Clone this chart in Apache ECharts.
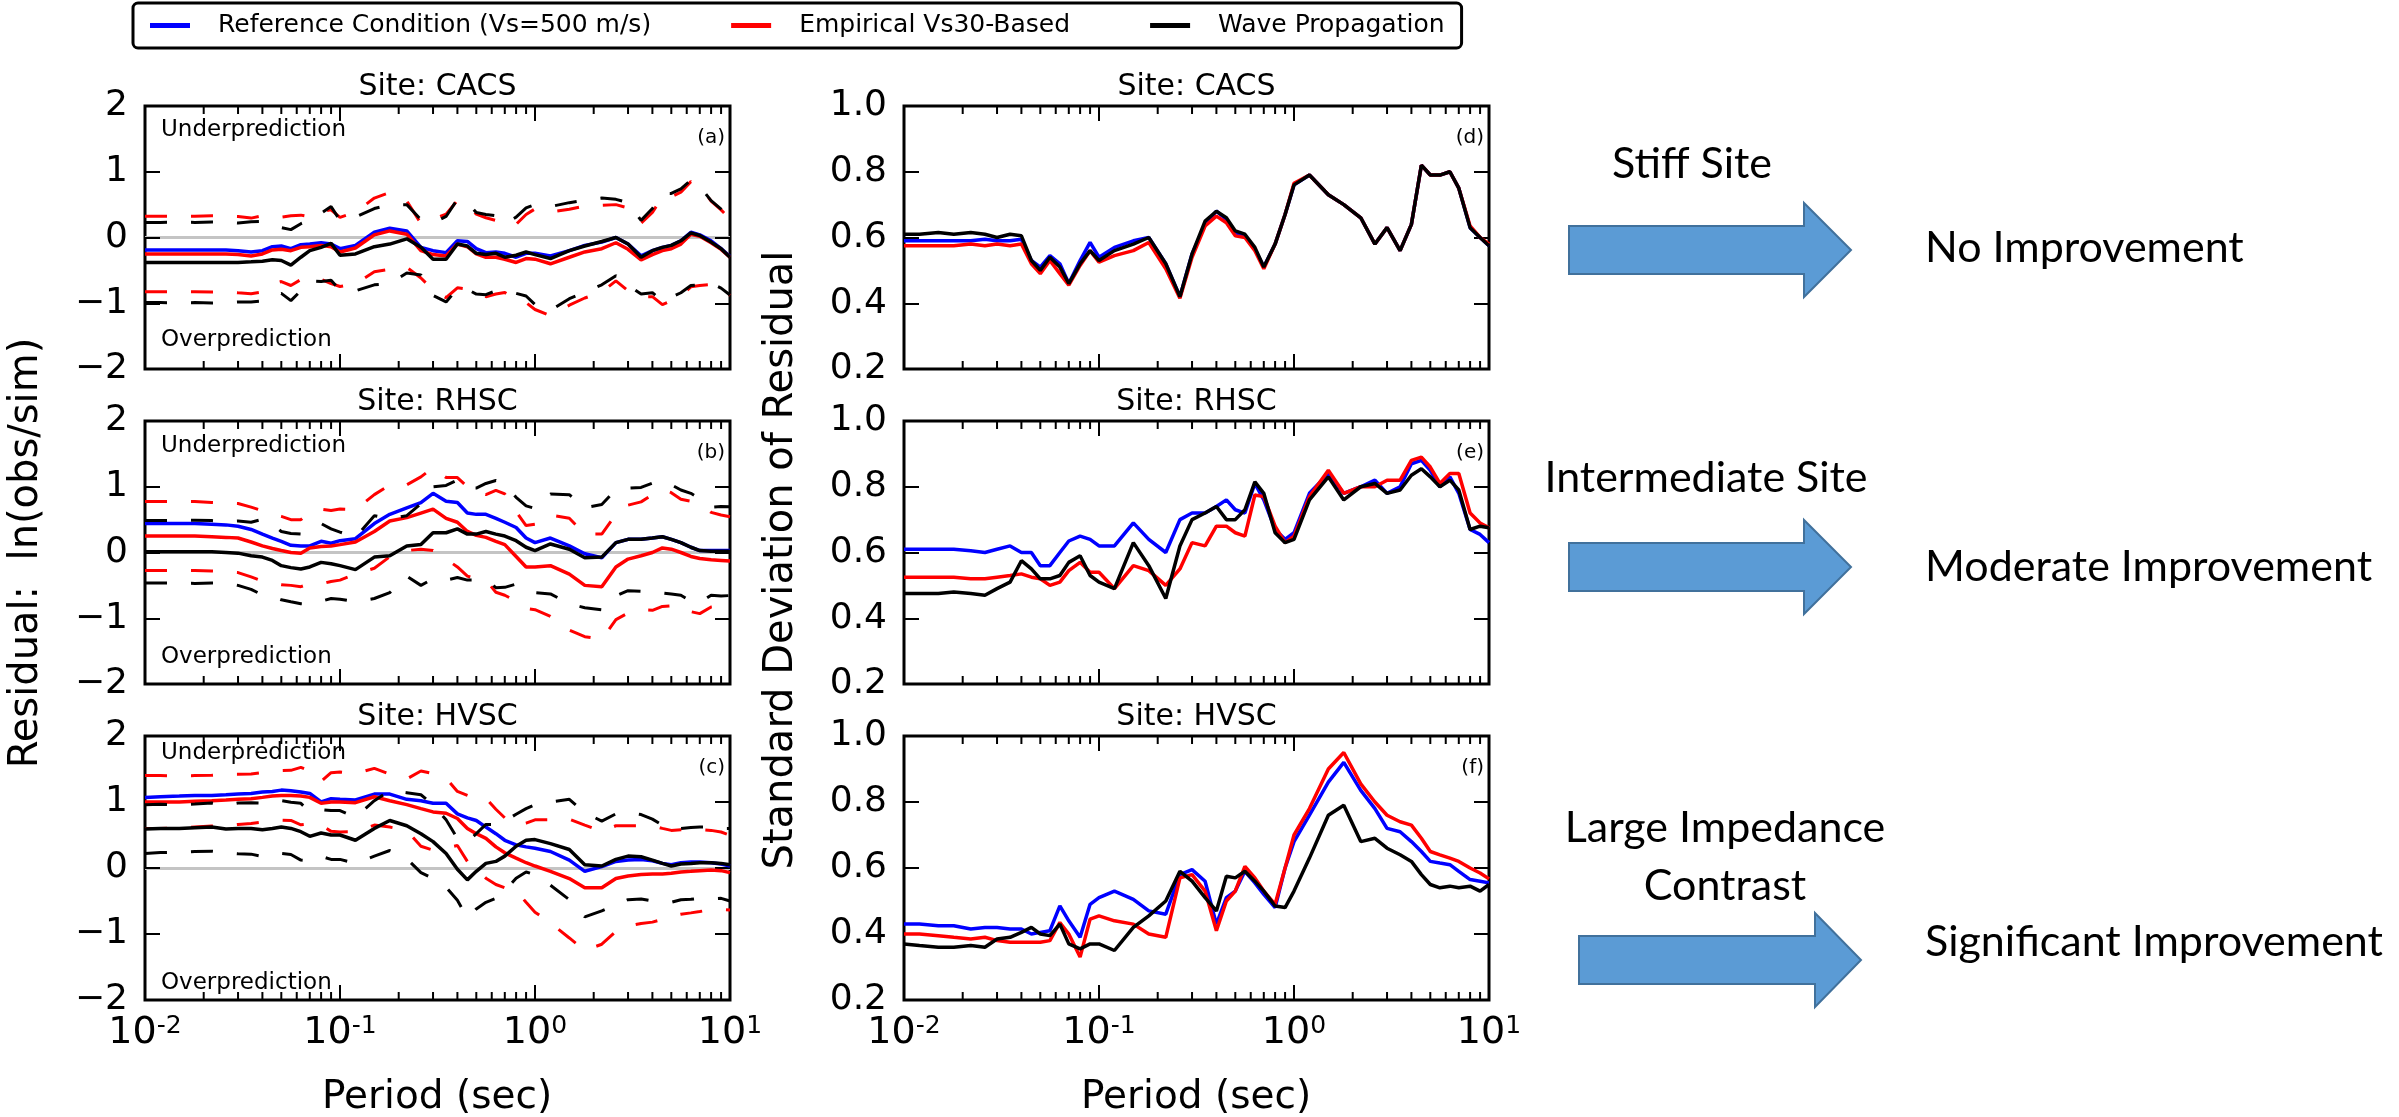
<!DOCTYPE html>
<html>
<head>
<meta charset="utf-8">
<script src="https://cdn.jsdelivr.net/npm/echarts@6/dist/echarts.min.js"></script>
<style>html,body{margin:0;padding:0;background:#fff}#c{width:2399px;height:1117px}</style>
</head>
<body>
<div id="c"></div>
<script>
// ---------------- DATA ----------------
const PERIOD = [0.01,0.012,0.015,0.018,0.022,0.026,0.03,0.035,0.04,0.045,0.05,0.056,0.063,0.07,0.08,0.09,
  0.1,0.12,0.15,0.18,0.22,0.26,0.3,0.35,0.4,0.45,0.5,0.56,0.63,0.7,0.8,0.9,
  1,1.2,1.5,1.8,2.2,2.6,3,3.5,4,4.5,5,5.6,6.3,7,8,9,10];
const MINOR_TICKS = [0.02,0.03,0.04,0.05,0.06,0.07,0.08,0.09,0.2,0.3,0.4,0.5,0.6,0.7,0.8,0.9,2,3,4,5,6,7,8,9];
const SERIES_NAMES = ['Reference Condition (Vs=500 m/s)','Empirical Vs30-Based','Wave Propagation'];
const SITES = ['CACS','RHSC','HVSC'];
const PANEL_TAGS = ['(a)','(b)','(c)','(d)','(e)','(f)'];
const RES_TICKS = [-2,-1,0,1,2];
const STD_TICKS = [0.2,0.4,0.6,0.8,1.0];

// (a) CACS mean residual
const A_REF = [-0.19,-0.19,-0.19,-0.19,-0.19,-0.19,-0.2,-0.22,-0.2,-0.14,-0.13,-0.17,-0.11,-0.1,-0.08,-0.1,
  -0.17,-0.12,0.08,0.14,0.1,-0.15,-0.2,-0.23,-0.05,-0.06,-0.17,-0.23,-0.22,-0.24,-0.3,-0.24,
  -0.24,-0.28,-0.2,-0.12,-0.07,0.0,-0.1,-0.28,-0.2,-0.15,-0.12,-0.05,0.08,0.04,-0.05,-0.17,-0.29];
const A_EMP = [-0.25,-0.25,-0.25,-0.25,-0.25,-0.25,-0.26,-0.28,-0.25,-0.19,-0.18,-0.2,-0.15,-0.14,-0.12,-0.14,
  -0.22,-0.16,0.04,0.1,0.05,-0.2,-0.26,-0.28,-0.1,-0.14,-0.25,-0.3,-0.3,-0.33,-0.38,-0.32,
  -0.33,-0.4,-0.3,-0.22,-0.17,-0.08,-0.18,-0.34,-0.26,-0.2,-0.17,-0.1,0.05,0.02,-0.08,-0.18,-0.3];
const A_EMP_HI = [0.325,0.325,0.325,0.325,0.33,0.325,0.32,0.295,0.33,0.33,0.31,0.33,0.34,0.315,0.395,0.42,
  0.305,0.385,0.6,0.685,0.555,0.215,0.28,0.355,0.565,0.505,0.355,0.3,0.26,0.175,0.2,0.35,
  0.435,0.39,0.43,0.48,0.49,0.5,0.45,0.22,0.38,0.62,0.62,0.69,0.85,0.77,0.555,0.42,0.28];
const A_EMP_LO = [-0.825,-0.825,-0.825,-0.825,-0.83,-0.825,-0.84,-0.855,-0.83,-0.71,-0.67,-0.73,-0.64,-0.595,-0.635,-0.7,
  -0.745,-0.705,-0.52,-0.485,-0.455,-0.615,-0.8,-0.915,-0.765,-0.785,-0.855,-0.9,-0.86,-0.835,-0.96,-0.99,
  -1.095,-1.19,-1.03,-0.92,-0.83,-0.66,-0.81,-0.9,-0.9,-1.02,-0.96,-0.89,-0.75,-0.73,-0.715,-0.78,-0.88];
const A_WAVE = [-0.38,-0.38,-0.38,-0.38,-0.38,-0.38,-0.38,-0.37,-0.36,-0.34,-0.35,-0.42,-0.3,-0.2,-0.15,-0.09,
  -0.27,-0.25,-0.14,-0.1,-0.02,-0.15,-0.33,-0.33,-0.1,-0.13,-0.24,-0.26,-0.24,-0.3,-0.27,-0.22,
  -0.26,-0.32,-0.2,-0.13,-0.06,0.0,-0.1,-0.3,-0.2,-0.15,-0.12,-0.05,0.07,0.03,-0.07,-0.17,-0.3];
const A_WAVE_HI = [0.23,0.23,0.235,0.23,0.235,0.23,0.22,0.24,0.245,0.19,0.15,0.12,0.21,0.26,0.37,0.47,
  0.26,0.31,0.44,0.5,0.5,0.27,0.22,0.32,0.58,0.53,0.38,0.35,0.33,0.21,0.31,0.45,
  0.5,0.47,0.53,0.57,0.6,0.58,0.53,0.26,0.44,0.67,0.67,0.74,0.87,0.78,0.56,0.43,0.275];
const A_WAVE_LO = [-0.99,-0.99,-0.995,-0.99,-0.995,-0.99,-0.98,-0.98,-0.965,-0.87,-0.85,-0.96,-0.81,-0.66,-0.67,-0.65,
  -0.8,-0.81,-0.72,-0.7,-0.54,-0.57,-0.88,-0.98,-0.78,-0.79,-0.86,-0.87,-0.81,-0.81,-0.85,-0.89,
  -1.02,-1.11,-0.93,-0.83,-0.72,-0.58,-0.73,-0.86,-0.84,-0.97,-0.91,-0.84,-0.73,-0.72,-0.7,-0.77,-0.875];

// (b) RHSC mean residual
const B_REF = [0.44,0.44,0.44,0.44,0.43,0.42,0.40,0.35,0.28,0.22,0.17,0.11,0.10,0.10,0.17,0.14,
  0.18,0.21,0.44,0.58,0.68,0.76,0.90,0.78,0.76,0.60,0.58,0.58,0.52,0.46,0.38,0.22,
  0.15,0.22,0.10,-0.02,-0.08,0.15,0.20,0.20,0.22,0.24,0.20,0.15,0.08,0.03,0.03,0.03,0.03];
const B_EMP = [0.25,0.25,0.25,0.25,0.24,0.23,0.22,0.16,0.10,0.06,0.03,0.0,-0.01,0.07,0.09,0.10,
  0.12,0.16,0.32,0.48,0.53,0.60,0.66,0.52,0.46,0.32,0.26,0.23,0.17,0.12,-0.06,-0.22,
  -0.22,-0.20,-0.33,-0.50,-0.52,-0.22,-0.10,-0.05,0.0,0.07,0.05,0.0,-0.06,-0.09,-0.11,-0.12,-0.13];
const B_EMP_HI = [0.775,0.775,0.775,0.775,0.76,0.75,0.745,0.69,0.635,0.585,0.55,0.5,0.5,0.615,0.66,0.64,
  0.66,0.65,0.88,1.025,1.03,1.15,1.29,1.14,1.14,1.0,0.92,0.88,0.945,0.89,0.62,0.41,
  0.43,0.57,0.52,0.28,0.28,0.58,0.72,0.77,0.88,0.96,0.91,0.81,0.78,0.75,0.61,0.57,0.545];
const B_EMP_LO = [-0.275,-0.275,-0.275,-0.275,-0.28,-0.29,-0.305,-0.37,-0.435,-0.465,-0.49,-0.5,-0.52,-0.475,-0.48,-0.44,
  -0.42,-0.33,-0.24,-0.065,0.03,0.05,0.03,-0.1,-0.22,-0.36,-0.4,-0.42,-0.605,-0.65,-0.74,-0.85,
  -0.87,-0.97,-1.18,-1.28,-1.32,-1.02,-0.92,-0.87,-0.88,-0.82,-0.81,-0.81,-0.9,-0.93,-0.83,-0.81,-0.805];
const B_WAVE = [0.01,0.01,0.01,0.01,0.01,0.0,-0.01,-0.05,-0.07,-0.12,-0.20,-0.23,-0.25,-0.22,-0.15,-0.17,
  -0.20,-0.26,-0.07,-0.05,0.10,0.12,0.30,0.30,0.36,0.28,0.28,0.32,0.28,0.25,0.18,0.08,
  0.03,0.13,0.05,-0.08,-0.07,0.15,0.20,0.20,0.22,0.24,0.20,0.15,0.08,0.03,0.02,0.02,0.02];
const B_WAVE_HI = [0.485,0.485,0.485,0.49,0.485,0.47,0.48,0.46,0.505,0.43,0.32,0.29,0.28,0.35,0.44,0.36,
  0.31,0.23,0.56,0.51,0.56,0.74,1.0,1.02,1.1,0.98,0.98,1.05,1.095,1.03,0.84,0.71,
  0.67,0.89,0.88,0.68,0.73,0.96,0.98,0.99,1.055,1.095,1.03,0.95,0.9,0.82,0.69,0.7,0.695];
const B_WAVE_LO = [-0.465,-0.465,-0.465,-0.47,-0.465,-0.47,-0.5,-0.56,-0.645,-0.67,-0.72,-0.75,-0.78,-0.79,-0.74,-0.7,
  -0.71,-0.75,-0.7,-0.61,-0.36,-0.5,-0.4,-0.42,-0.38,-0.42,-0.42,-0.41,-0.535,-0.53,-0.48,-0.55,
  -0.61,-0.63,-0.78,-0.84,-0.87,-0.66,-0.58,-0.59,-0.615,-0.615,-0.63,-0.65,-0.74,-0.76,-0.65,-0.66,-0.655];

// (c) HVSC mean residual
const C_REF = [1.07,1.08,1.09,1.10,1.10,1.11,1.12,1.13,1.15,1.16,1.18,1.17,1.15,1.13,1.00,1.05,
  1.04,1.03,1.12,1.12,1.04,1.02,0.98,0.98,0.82,0.76,0.72,0.62,0.52,0.42,0.35,0.32,
  0.30,0.25,0.12,-0.05,0.02,0.10,0.12,0.13,0.11,0.07,0.05,0.08,0.09,0.09,0.08,0.06,0.03];
const C_EMP = [1.00,1.00,1.00,1.01,1.02,1.03,1.04,1.05,1.07,1.09,1.10,1.10,1.09,1.07,0.98,1.00,
  1.00,0.99,1.08,1.02,0.96,0.90,0.85,0.83,0.75,0.60,0.52,0.45,0.32,0.23,0.15,0.08,
  0.03,-0.05,-0.16,-0.30,-0.30,-0.16,-0.12,-0.10,-0.09,-0.09,-0.08,-0.06,-0.05,-0.04,-0.03,-0.04,-0.07];
const C_EMP_HI = [1.4,1.4,1.395,1.4,1.405,1.42,1.42,1.425,1.445,1.465,1.475,1.48,1.525,1.47,1.31,1.445,
  1.455,1.43,1.51,1.42,1.35,1.47,1.43,1.36,1.16,1.1,1.05,1.055,0.89,0.76,0.64,0.68,
  0.73,0.73,0.74,0.65,0.555,0.64,0.64,0.64,0.64,0.6,0.57,0.58,0.58,0.58,0.57,0.545,0.497];
const C_EMP_LO = [0.6,0.6,0.605,0.62,0.635,0.64,0.66,0.675,0.695,0.715,0.725,0.72,0.655,0.67,0.65,0.555,
  0.545,0.55,0.65,0.62,0.57,0.33,0.27,0.3,0.34,0.1,-0.01,-0.155,-0.25,-0.3,-0.34,-0.52,
  -0.67,-0.83,-1.06,-1.25,-1.155,-0.96,-0.88,-0.84,-0.82,-0.78,-0.73,-0.7,-0.68,-0.66,-0.63,-0.625,-0.637];
const C_WAVE = [0.59,0.60,0.60,0.61,0.62,0.59,0.60,0.60,0.58,0.60,0.62,0.60,0.55,0.48,0.53,0.50,
  0.50,0.42,0.60,0.72,0.64,0.52,0.40,0.22,-0.02,-0.18,-0.05,0.07,0.10,0.18,0.33,0.42,
  0.43,0.37,0.28,0.05,0.03,0.13,0.18,0.17,0.12,0.07,0.03,0.06,0.07,0.08,0.08,0.07,0.05];
const C_WAVE_HI = [0.96,0.965,0.96,0.97,0.985,0.95,0.985,0.99,0.985,1.02,1.02,0.995,0.98,0.85,0.885,0.87,
  0.87,0.77,1.02,1.175,1.14,1.11,0.96,0.73,0.45,0.395,0.52,0.66,0.66,0.71,0.815,0.9,
  0.96,1.0,1.04,0.84,0.71,0.82,0.84,0.81,0.74,0.65,0.58,0.6,0.615,0.62,0.625,0.6,0.6];
const C_WAVE_LO = [0.22,0.235,0.24,0.25,0.255,0.23,0.215,0.21,0.175,0.18,0.22,0.205,0.12,0.11,0.175,0.13,
  0.13,0.07,0.18,0.265,0.14,-0.07,-0.16,-0.29,-0.49,-0.755,-0.62,-0.52,-0.46,-0.35,-0.155,-0.06,
  -0.1,-0.26,-0.48,-0.74,-0.65,-0.56,-0.48,-0.47,-0.5,-0.51,-0.52,-0.48,-0.475,-0.46,-0.465,-0.46,-0.5];

// (d) CACS std dev
const D_REF = [0.59,0.59,0.59,0.59,0.59,0.595,0.59,0.59,0.595,0.53,0.51,0.545,0.52,0.46,0.53,0.585,
  0.54,0.57,0.59,0.60,0.52,0.42,0.55,0.64,0.68,0.655,0.615,0.605,0.565,0.51,0.58,0.67,
  0.76,0.79,0.73,0.70,0.66,0.58,0.63,0.56,0.64,0.82,0.79,0.79,0.80,0.75,0.63,0.60,0.575];
const D_EMP = [0.575,0.575,0.575,0.575,0.58,0.575,0.58,0.575,0.58,0.52,0.49,0.53,0.49,0.455,0.515,0.56,
  0.525,0.545,0.56,0.585,0.505,0.415,0.54,0.635,0.665,0.645,0.605,0.60,0.56,0.505,0.58,0.67,
  0.765,0.79,0.73,0.70,0.66,0.58,0.63,0.56,0.64,0.82,0.79,0.79,0.80,0.75,0.635,0.60,0.58];
const D_WAVE = [0.61,0.61,0.615,0.61,0.615,0.61,0.60,0.61,0.605,0.53,0.50,0.54,0.51,0.46,0.52,0.56,
  0.53,0.56,0.58,0.60,0.52,0.42,0.55,0.65,0.68,0.66,0.62,0.61,0.57,0.51,0.58,0.67,
  0.76,0.79,0.73,0.70,0.66,0.58,0.63,0.56,0.64,0.82,0.79,0.79,0.80,0.75,0.63,0.60,0.575];

// (e) RHSC std dev
const E_REF = [0.61,0.61,0.61,0.61,0.605,0.60,0.61,0.62,0.60,0.60,0.56,0.56,0.60,0.635,0.65,0.64,
  0.62,0.62,0.69,0.64,0.60,0.70,0.72,0.72,0.74,0.76,0.73,0.72,0.81,0.76,0.67,0.64,
  0.66,0.78,0.84,0.78,0.80,0.82,0.78,0.80,0.87,0.88,0.85,0.80,0.83,0.78,0.67,0.655,0.63];
const E_EMP = [0.525,0.525,0.525,0.525,0.52,0.52,0.525,0.53,0.535,0.525,0.52,0.50,0.51,0.545,0.57,0.54,
  0.54,0.49,0.56,0.545,0.50,0.55,0.63,0.62,0.68,0.68,0.66,0.65,0.775,0.77,0.68,0.63,
  0.65,0.77,0.85,0.78,0.80,0.80,0.82,0.82,0.88,0.89,0.86,0.81,0.84,0.84,0.72,0.69,0.675];
const E_WAVE = [0.475,0.475,0.475,0.48,0.475,0.47,0.49,0.51,0.575,0.55,0.52,0.52,0.53,0.57,0.59,0.53,
  0.51,0.49,0.63,0.56,0.46,0.62,0.70,0.72,0.74,0.70,0.70,0.73,0.815,0.78,0.66,0.63,
  0.64,0.76,0.83,0.76,0.80,0.81,0.78,0.79,0.835,0.855,0.83,0.80,0.82,0.79,0.67,0.68,0.675];

// (f) HVSC std dev
const F_REF = [0.43,0.43,0.425,0.425,0.415,0.42,0.42,0.415,0.415,0.40,0.405,0.41,0.485,0.44,0.39,0.49,
  0.51,0.53,0.505,0.47,0.46,0.58,0.595,0.56,0.43,0.51,0.53,0.59,0.555,0.52,0.48,0.60,
  0.68,0.76,0.86,0.92,0.835,0.78,0.72,0.71,0.68,0.65,0.62,0.615,0.61,0.59,0.565,0.56,0.555];
const F_EMP = [0.40,0.40,0.395,0.39,0.385,0.39,0.38,0.375,0.375,0.375,0.375,0.38,0.435,0.40,0.33,0.445,
  0.455,0.44,0.43,0.40,0.39,0.57,0.58,0.53,0.41,0.50,0.53,0.605,0.57,0.53,0.49,0.60,
  0.70,0.78,0.90,0.95,0.855,0.80,0.76,0.74,0.73,0.69,0.65,0.64,0.63,0.62,0.60,0.585,0.567];
const F_WAVE = [0.37,0.365,0.36,0.36,0.365,0.36,0.385,0.39,0.405,0.42,0.40,0.395,0.43,0.37,0.355,0.37,
  0.37,0.35,0.42,0.455,0.50,0.59,0.56,0.51,0.47,0.575,0.57,0.59,0.56,0.53,0.485,0.48,
  0.53,0.63,0.76,0.79,0.68,0.69,0.66,0.64,0.62,0.58,0.55,0.54,0.545,0.54,0.545,0.53,0.55];

// ---------------- LAYOUT / STYLE ----------------
const FONT = 'DejaVu Sans';
const COLORS = ['#0000ff', '#ff0000', '#000000'];
const GRIDS = [
  {left: 145, top: 106, width: 585, height: 263},
  {left: 145, top: 421, width: 585, height: 263},
  {left: 145, top: 736, width: 585, height: 264},
  {left: 904, top: 106, width: 585, height: 263},
  {left: 904, top: 421, width: 585, height: 263},
  {left: 904, top: 736, width: 585, height: 264}
];
const LEFT_PANELS = [
  [A_REF, A_EMP, A_WAVE, A_EMP_HI, A_EMP_LO, A_WAVE_HI, A_WAVE_LO],
  [B_REF, B_EMP, B_WAVE, B_EMP_HI, B_EMP_LO, B_WAVE_HI, B_WAVE_LO],
  [C_REF, C_EMP, C_WAVE, C_EMP_HI, C_EMP_LO, C_WAVE_HI, C_WAVE_LO]
];
const RIGHT_PANELS = [
  [D_REF, D_EMP, D_WAVE],
  [E_REF, E_EMP, E_WAVE],
  [F_REF, F_EMP, F_WAVE]
];

const toPts = vals => PERIOD.map((p, i) => [p, vals[i]]);
const tickStyle = {color: '#000', width: 2};

const grid = GRIDS.map(g => Object.assign({show: true, borderColor: '#000', borderWidth: 3, backgroundColor: 'transparent'}, g));

const xAxis = [], yAxis = [];
GRIDS.forEach((g, gi) => {
  const bottomRow = (gi === 2 || gi === 5);
  const base = {
    gridIndex: gi, type: 'log', logBase: 10, min: 0.01, max: 10,
    axisLine: {show: false, onZero: false}, splitLine: {show: false},
    axisTick: {show: true, inside: true, length: 15, lineStyle: tickStyle}
  };
  xAxis.push(Object.assign({}, base, {
    position: 'bottom',
    axisLabel: {
      show: bottomRow, margin: 14,
      formatter: v => '{b|10}{s|' + Math.round(Math.log10(v)) + '}',
      rich: {
        b: {fontFamily: FONT, fontSize: 38, color: '#000'},
        s: {fontFamily: FONT, fontSize: 25, color: '#000', verticalAlign: 'top'}
      }
    }
  }));
  xAxis.push(Object.assign({}, base, {position: 'top', axisLabel: {show: false}}));
  const isLeft = gi < 3;
  const ticks = isLeft ? RES_TICKS : STD_TICKS;
  const ybase = {
    gridIndex: gi, type: 'value',
    min: ticks[0], max: ticks[ticks.length - 1], interval: ticks[1] - ticks[0],
    axisLine: {show: false, onZero: false},
    axisTick: {show: true, inside: true, length: 15, lineStyle: tickStyle}
  };
  yAxis.push(Object.assign({}, ybase, {
    position: 'left',
    splitLine: isLeft ? {show: true, lineStyle: {width: 3, color: ['rgba(0,0,0,0)', 'rgba(0,0,0,0)', '#c4c4c4', 'rgba(0,0,0,0)', 'rgba(0,0,0,0)']}} : {show: false},
    axisLabel: {
      margin: 17, fontFamily: FONT, fontSize: 36, color: '#000',
      formatter: v => isLeft ? (v < 0 ? '\u2212' + Math.abs(Math.round(v)) : String(Math.round(v))) : v.toFixed(1)
    }
  }));
  yAxis.push(Object.assign({}, ybase, {position: 'right', splitLine: {show: false}, axisLabel: {show: false}}));
});

function lineSeries(name, gi, vals, color, dashed, z) {
  return {
    type: 'line', name: name, xAxisIndex: 2 * gi, yAxisIndex: 2 * gi,
    data: toPts(vals), showSymbol: false, symbol: 'none', z: z,
    color: color, itemStyle: {color: color},
    lineStyle: dashed ? {color: color, width: 3, type: [22, 24]} : {color: color, width: 3.5},
    emphasis: {disabled: true}, silent: true, animation: false
  };
}

const series = [];
LEFT_PANELS.forEach((p, gi) => {
  series.push(lineSeries(SERIES_NAMES[0], gi, p[0], COLORS[0], false, 2));
  series.push(lineSeries(SERIES_NAMES[1], gi, p[1], COLORS[1], false, 3));
  series.push(lineSeries(SERIES_NAMES[1] + ' +sd', gi, p[3], COLORS[1], true, 3));
  series.push(lineSeries(SERIES_NAMES[1] + ' -sd', gi, p[4], COLORS[1], true, 3));
  series.push(lineSeries(SERIES_NAMES[2], gi, p[2], COLORS[2], false, 4));
  series.push(lineSeries(SERIES_NAMES[2] + ' +sd', gi, p[5], COLORS[2], true, 4));
  series.push(lineSeries(SERIES_NAMES[2] + ' -sd', gi, p[6], COLORS[2], true, 4));
});
RIGHT_PANELS.forEach((p, k) => {
  const gi = k + 3;
  series.push(lineSeries(SERIES_NAMES[0], gi, p[0], COLORS[0], false, 2));
  series.push(lineSeries(SERIES_NAMES[1], gi, p[1], COLORS[1], false, 3));
  series.push(lineSeries(SERIES_NAMES[2], gi, p[2], COLORS[2], false, 4));
});
// minor log ticks (top and bottom), positioned by the x scale
GRIDS.forEach((g, gi) => {
  const yRef = gi < 3 ? RES_TICKS[2] : STD_TICKS[2];
  series.push({
    type: 'custom', xAxisIndex: 2 * gi, yAxisIndex: 2 * gi, silent: true, animation: false, z: 6,
    data: MINOR_TICKS.map(t => [t, yRef]),
    renderItem: (params, api) => {
      const cs = params.coordSys;
      const x = api.coord([api.value(0), api.value(1)])[0];
      const st = {stroke: '#000', lineWidth: 2};
      return {type: 'group', children: [
        {type: 'line', shape: {x1: x, y1: cs.y + cs.height, x2: x, y2: cs.y + cs.height - 8}, style: st},
        {type: 'line', shape: {x1: x, y1: cs.y, x2: x, y2: cs.y + 8}, style: st}
      ]};
    }
  });
});

// ---------------- ANNOTATIONS ----------------
const graphic = [];
function txt(x, y, text, size, align, vAlign, family, extra) {
  graphic.push(Object.assign({
    type: 'text', x: x, y: y, silent: true, z: 100,
    style: {text: text, fontFamily: family || FONT, fontSize: size, fill: '#000', align: align, verticalAlign: vAlign}
  }, extra || {}));
}
GRIDS.forEach((g, gi) => {
  const cx = g.left + g.width / 2;
  txt(cx, g.top - 19, 'Site: ' + SITES[gi % 3], 30, 'center', 'middle');
  txt(g.left + g.width - 5, g.top + 32, PANEL_TAGS[gi], 20, 'right', 'middle');
});
[[130, 340], [446, 657], [753, 983]].forEach((ys, k) => {
  txt(161, ys[0], 'Underprediction', 23, 'left', 'middle');
  txt(161, ys[1], 'Overprediction', 23, 'left', 'middle');
});
txt(437, 1098, 'Period (sec)', 39, 'center', 'middle');
txt(1196, 1098, 'Period (sec)', 39, 'center', 'middle');
txt(27, 553, 'Residual:  ln(obs/sim)', 40, 'center', 'middle', FONT, {rotation: Math.PI / 2});
txt(782, 560, 'Standard Deviation of Residual', 40, 'center', 'middle', FONT, {rotation: Math.PI / 2});

// arrows + right-hand notes
const ARROW_FILL = '#5B9BD5', ARROW_EDGE = '#41719C';
function arrow(x0, xb, xt, cy, bh, hh) {
  graphic.push({
    type: 'polygon', silent: true, z: 50,
    shape: {points: [[x0, cy - bh], [xb, cy - bh], [xb, cy - hh], [xt, cy], [xb, cy + hh], [xb, cy + bh], [x0, cy + bh]]},
    style: {fill: ARROW_FILL, stroke: ARROW_EDGE, lineWidth: 2}
  });
}
arrow(1569, 1804, 1851, 250, 24, 47);
arrow(1569, 1804, 1851, 567, 24, 47);
arrow(1579, 1815, 1861, 960, 24, 47);
const NOTE_FONT = 'Lato';
txt(1692, 164, 'Stiff Site', 43, 'center', 'middle', NOTE_FONT);
txt(1925, 248, 'No Improvement', 43, 'left', 'middle', NOTE_FONT);
txt(1706, 478, 'Intermediate Site', 43, 'center', 'middle', NOTE_FONT);
txt(1925, 567, 'Moderate Improvement', 43, 'left', 'middle', NOTE_FONT);
txt(1725, 828, 'Large Impedance', 43, 'center', 'middle', NOTE_FONT);
txt(1725, 886, 'Contrast', 43, 'center', 'middle', NOTE_FONT);
txt(1925, 942, 'Significant Improvement', 43, 'left', 'middle', NOTE_FONT);

const option = {
  animation: false,
  backgroundColor: '#ffffff',
  legend: {
    data: SERIES_NAMES, left: 133, top: 3, orient: 'horizontal',
    icon: 'rect', itemWidth: 40, itemHeight: 5, itemGap: 80,
    padding: [10, 17, 10, 17], borderColor: '#000', borderWidth: 3, borderRadius: 5,
    selectedMode: false,
    textStyle: {fontFamily: FONT, fontSize: 25, color: '#000', padding: [0, 0, 0, 23]}
  },
  grid: grid, xAxis: xAxis, yAxis: yAxis, series: series, graphic: graphic
};
const chart = echarts.init(document.getElementById('c'), null, {renderer: 'canvas', width: 2399, height: 1117});
chart.setOption(option);
</script>
</body>
</html>
